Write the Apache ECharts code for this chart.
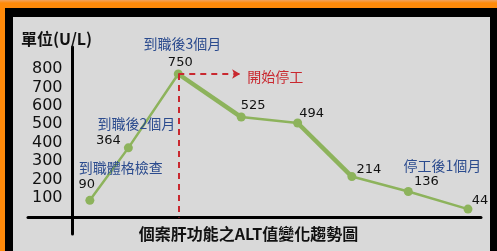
<!DOCTYPE html>
<html>
<head>
<meta charset="utf-8">
<script src="https://cdn.jsdelivr.net/npm/echarts@6/dist/echarts.min.js"></script>
<style>
  html, body { margin: 0; padding: 0; }
  body { width: 497px; height: 251px; position: relative; overflow: hidden;
         background: linear-gradient(#f3a35c 0px, #ff8a0a 3px, #ff8a0a 100%); }
  #frame { position: absolute; left: 5px; top: 8px; right: 0; bottom: 0; background: #000; }
  #inner { position: absolute; left: 13px; top: 17px; right: 7px; bottom: 0; background: #d9d9d9; }
  #main { position: absolute; left: 0; top: 0; width: 497px; height: 251px; }
</style>
</head>
<body>
<div id="frame"></div>
<div id="inner"></div>
<div id="main"></div>
<script>
// ALT readings (U/L)
var values = [90, 364, 750, 525, 494, 214, 136, 44];
// where each reading sits along the timeline (uneven spacing)
var timeline = [0.32, 1.03, 1.95, 3.11, 4.15, 5.15, 6.19, 7.29];
// y tick labels printed on the left
var tickLabels = [100, 200, 300, 400, 500, 600, 700, 800];
// notes written next to some of the points
var noteIndex = [0, 1, 2, 6];
var noteTexts = ['到職體格檢查', '到職後2個月', '到職後3個月', '停工後1個月'];
var stopIndex = 2;
var stopText = '開始停工';

var labelOffsets = [[-3, -16], [-20, -7], [2, -11], [12, -11], [14, -9], [17, -7], [18, -10], [12, -8]];
var noteOffsets = [[31, -33], [8, -24], [4, -30], [34, -26]];

var green = '#8db35c';
var blue = '#2b4b8e';
var red = '#c9282f';

var chart = echarts.init(document.getElementById('main'), null, { renderer: 'canvas' });

function seg(a, b) {
  return [[timeline[a], values[a]], [timeline[b], values[b]]];
}

var mainData = values.map(function (v, i) {
  return {
    value: [timeline[i], v],
    label: { offset: labelOffsets[i] }
  };
});

var notes = noteIndex.map(function (idx, k) {
  return {
    coord: [timeline[idx], values[idx]],
    label: { formatter: noteTexts[k], offset: noteOffsets[k], color: blue }
  };
});
notes.push({
  coord: [timeline[stopIndex], values[stopIndex]],
  label: { formatter: stopText, offset: [97, 3], color: red }
});

var option = {
  animation: false,
  backgroundColor: 'transparent',
  title: [{
    text: '單位(U/L)',
    left: 21, top: 31, padding: 0,
    textStyle: { fontFamily: '"Noto Sans CJK TC", "DejaVu Serif"', fontSize: 16, fontWeight: 'bold', color: '#111' }
  }, {
    text: '個案肝功能之ALT值變化趨勢圖',
    left: 'center', top: 226, padding: 0,
    textStyle: { fontFamily: '"Noto Sans CJK TC", "DejaVu Serif"', fontSize: 16, fontWeight: 'bold', color: '#111' }
  }],
  grid: { left: 28, right: 16, top: 47, bottom: 17, containLabel: false, outerBoundsMode: 'none' },
  xAxis: {
    type: 'value',
    min: -0.82, max: 7.53,
    axisLine: { show: true, onZero: true, onZeroAxisIndex: 0, lineStyle: { color: '#000', width: 3 } },
    axisTick: { show: false },
    axisLabel: { show: false },
    splitLine: { show: false }
  },
  yAxis: [{
    type: 'value',
    min: -86, max: 891,
    show: false,
    splitLine: { show: false }
  }, {
    type: 'value',
    position: 'left',
    offset: -44.5,
    min: -95, max: 919,
    axisLine: { show: true, onZero: false, lineStyle: { color: '#000', width: 3 } },
    axisTick: { show: false },
    splitLine: { show: false },
    axisLabel: {
      customValues: tickLabels,
      margin: 10,
      fontFamily: 'DejaVu Sans',
      fontSize: 16,
      color: '#111'
    }
  }],
  series: [{
    type: 'line',
    yAxisIndex: 0,
    data: mainData,
    symbol: 'circle',
    symbolSize: 9,
    z: 3,
    lineStyle: { color: green, width: 2.5 },
    itemStyle: { color: green },
    label: {
      show: true,
      position: 'inside',
      formatter: function (p) { return p.value[1]; },
      fontFamily: 'DejaVu Sans',
      fontSize: 13,
      color: '#111'
    },
    markLine: {
      silent: true,
      symbol: ['none', 'none'],
      label: { show: false },
      lineStyle: { color: red, type: [6, 5], width: 2 },
      data: [
        [{ coord: [timeline[stopIndex], values[stopIndex]] }, { coord: [timeline[stopIndex], 0] }],
        [{ coord: [timeline[stopIndex], values[stopIndex]] },
         { coord: [timeline[stopIndex] + 1.14, values[stopIndex]], symbol: 'arrow', symbolSize: [7, 8] }]
      ]
    },
    markPoint: {
      silent: true,
      symbol: 'circle',
      symbolSize: 1,
      itemStyle: { color: 'rgba(0,0,0,0)' },
      label: {
        show: true,
        position: 'inside',
        fontFamily: '"Noto Sans CJK TC"',
        fontSize: 14
      },
      data: notes
    }
  }, {
    type: 'line', yAxisIndex: 0, data: seg(2, 3), symbol: 'none', z: 2,
    lineStyle: { color: green, width: 4.5 }, silent: true
  }, {
    type: 'line', yAxisIndex: 0, data: seg(4, 5), symbol: 'none', z: 2,
    lineStyle: { color: green, width: 4.5 }, silent: true
  }]
};

chart.setOption(option);
</script>
</body>
</html>
